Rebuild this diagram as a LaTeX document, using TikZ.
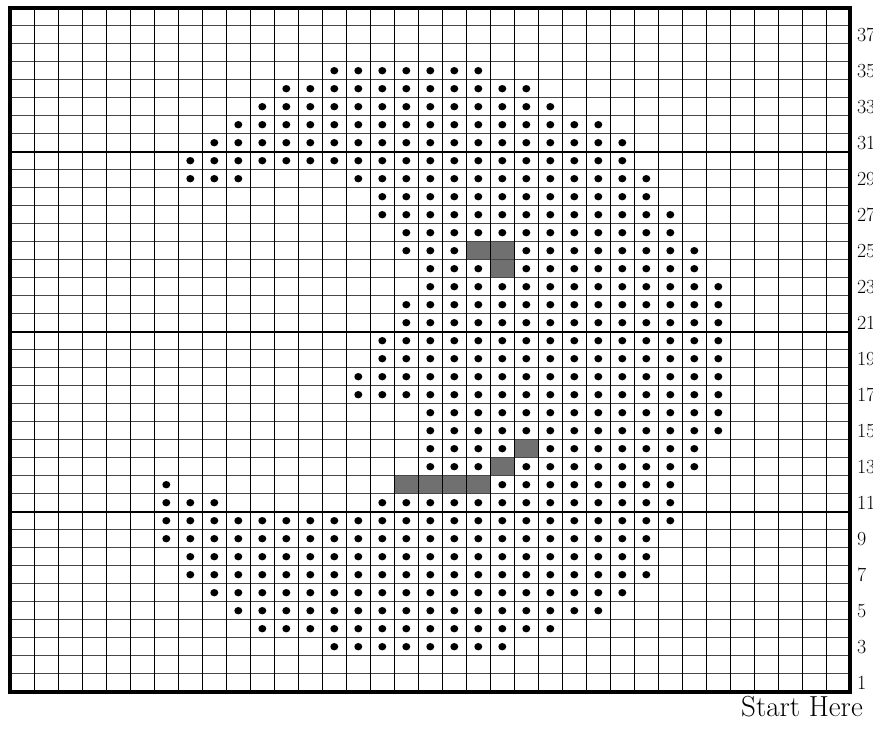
\documentclass[tikz,border=0pt]{standalone}
\usepackage{tikz}

\tikzset{
    hline/.style={draw=black!72, line width=1.2pt},
    vline/.style={draw=black, line width=0.8pt},
    shadecell/.style={fill=black!56},
    rowlabel/.style={anchor=west, inner sep=0pt, xshift=6.5pt,
        font=\fontsize{20}{20}\selectfont}
}

\begin{document}
\begin{tikzpicture}[x=24pt,y=18pt]

% Page frame
\useasboundingbox (-10.3pt,-41.3pt) rectangle (862.7pt,691.7pt);

% Shaded cells
\foreach \c/\r in {20/25,21/25,21/24,22/14,21/13,17/12,18/12,19/12,20/12}
    \fill[shadecell] (\c-1,\r-1) rectangle (\c,\r);

% Grid
\foreach \r in {1,...,37}
    \draw[hline] (0,\r) -- (35,\r);
\foreach \c in {1,...,34}
    \draw[vline] (\c,0) -- (\c,38);

% Every tenth line
\foreach \r in {10,20,30}
    \draw[hline, draw=black, line width=2pt] (0,\r) -- (35,\r);
\foreach \c in {10,20,30}
    \draw[vline, line width=1.4pt] (\c,0) -- (\c,38);

% Border
\draw[line width=3.8pt] (0,0) rectangle (35,38);

% Stitches: row / first column / last column
\foreach \r/\a/\b in {35/14/20, 34/12/22, 33/11/23, 32/10/25, 31/9/26,
    30/8/26, 29/8/10, 29/15/27, 28/16/27, 27/16/28, 26/17/28,
    25/17/19, 25/22/29, 24/18/20, 24/22/29, 23/18/30, 22/17/30,
    21/17/30, 20/16/30, 19/16/30, 18/15/30, 17/15/30, 16/18/30,
    15/18/30, 14/18/21, 14/23/29, 13/18/20, 13/22/29, 12/7/7,
    12/21/28, 11/7/9, 11/16/28, 10/7/28, 9/7/27, 8/8/27, 7/8/27,
    6/9/26, 5/10/25, 4/11/23, 3/14/21}
    \foreach \c in {\a,...,\b}
        \fill (\c-0.5,\r-0.5) circle[x radius=4pt, y radius=3.7pt];

% Row numbers
\foreach \r in {1,3,...,37}
    \node[rowlabel] (row\r) at (35,\r-0.5) {\r};

\node[anchor=base east, inner sep=0pt, font=\fontsize{29}{29}\selectfont]
    (start) at (852.7pt,-25.3pt) {Start Here};

\end{tikzpicture}
\end{document}
